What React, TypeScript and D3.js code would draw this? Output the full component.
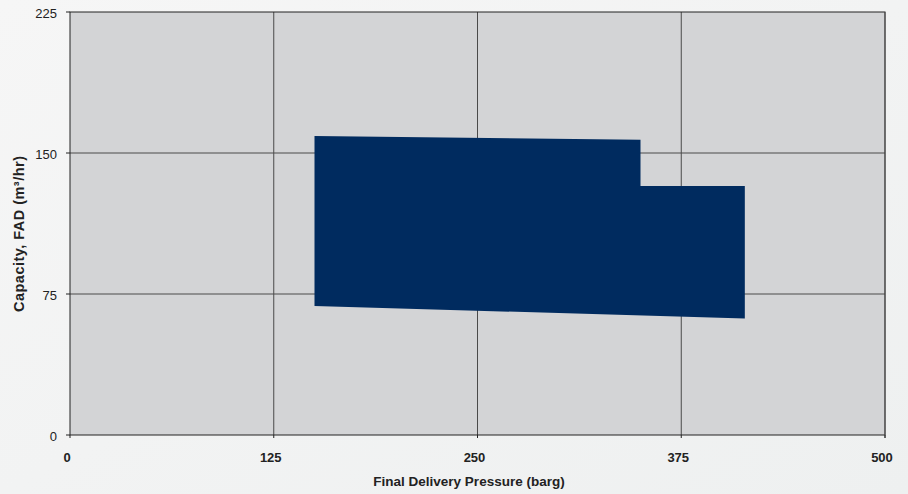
import React from "react";
import * as d3 from "d3";

const xTicks = [0, 125, 250, 375, 500];
const yTicks = [0, 75, 150, 225];
const envelopePressure = [150, 350, 350, 414, 414, 150];
const envelopeCapacity = [159, 157, 132.5, 132.5, 62, 68.6];
const xTitle = "Final Delivery Pressure (barg)";
const yTitle = "Capacity, FAD (m³/hr)";

const W = 908, H = 494;
const M = { left: 70, right: 885, top: 12, bottom: 435 };

export default function App() {
  const x = d3.scaleLinear().domain([0, 500]).range([M.left, M.right]);
  const y = d3.scaleLinear().domain([0, 225]).range([M.bottom, M.top]);
  const pts: [number, number][] = envelopePressure.map((p, i) => [x(p), y(envelopeCapacity[i])]);
  const line = d3.line().curve(d3.curveLinearClosed);
  const font = "Arial, 'Liberation Sans', Helvetica, sans-serif";
  return (
    <svg width={W} height={H} style={{ position: "absolute", left: 0, top: 0 }} fontFamily={font}>
      <defs>
        <linearGradient id="bg" x1="0" y1="0" x2="1" y2="1">
          <stop offset="0" stopColor="#f6f6f6" />
          <stop offset="1" stopColor="#eef0f0" />
        </linearGradient>
      </defs>
      <rect width={W} height={H} fill="url(#bg)" />
      <rect x={M.left} y={M.top} width={M.right - M.left} height={M.bottom - M.top} fill="#d3d4d6" />
      {xTicks.slice(1, -1).map((t) => (
        <line key={"gx" + t} x1={x(t)} x2={x(t)} y1={M.top} y2={M.bottom} stroke="#4a4a4a" strokeWidth={1} />
      ))}
      {yTicks.slice(1, -1).map((t) => (
        <line key={"gy" + t} x1={M.left} x2={M.right} y1={y(t)} y2={y(t)} stroke="#4a4a4a" strokeWidth={1} />
      ))}
      <path d={line(pts) || ""} fill="#002b5f" />
      <rect x={M.left} y={M.top} width={M.right - M.left} height={M.bottom - M.top} fill="none" stroke="#222" strokeWidth={1} />
      <line x1={M.right} x2={M.right} y1={M.top} y2={M.bottom + 3} stroke="#555" />
      {yTicks.map((t) => (
        <g key={"yt" + t}>
          <line x1={M.left - 4} x2={M.left} y1={y(t)} y2={y(t)} stroke="#222" />
          <text x={M.left - 13} y={y(t) + 6} textAnchor="end" fontSize={13} fill="#222">{t}</text>
        </g>
      ))}
      {xTicks.map((t) => (
        <g key={"xt" + t}>
          <line x1={x(t)} x2={x(t)} y1={M.bottom} y2={M.bottom + 3} stroke="#222" />
          <text x={x(t) - 3} y={462} textAnchor="middle" fontSize={13} fontWeight="bold" fill="#222">{t}</text>
        </g>
      ))}
      <text x={469} y={486} textAnchor="middle" fontSize={13.5} fontWeight="bold" fill="#222">{xTitle}</text>
      <text transform={`translate(24,234) rotate(-90)`} textAnchor="middle" fontSize={14.5} fontWeight="bold" fill="#222" textLength={156} lengthAdjust="spacing">{yTitle}</text>
    </svg>
  );
}
